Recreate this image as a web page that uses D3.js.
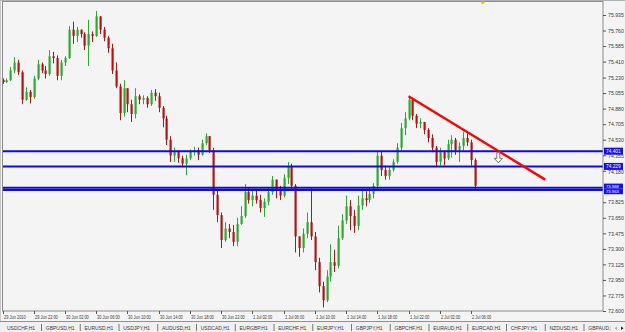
<!DOCTYPE html>
<html>
<head>
<meta charset="utf-8">
<script src="https://cdn.jsdelivr.net/npm/d3@7"></script>
<style>
  body { margin: 0; background: #f4f4f4; }
  svg { display: block; font-family: "Liberation Sans", Arial, sans-serif; }
</style>
</head>
<body>
<script>
const w = 625;
const h = 332;

// 30 min bars, 29 Jun 18:00 -> 2 Jul 06:30
const firstOpen = 75.20;
const closes = [
  75.18, 75.20, 75.31, 75.40, 75.29, 74.98, 75.07, 75.01, 75.22, 75.38,
  75.31, 75.27, 75.47, 75.45, 75.25, 75.40, 75.45, 75.77, 75.70, 75.77,
  75.72, 75.59, 75.72, 75.70, 75.92, 75.77, 75.68, 75.56, 75.31, 75.13,
  74.83, 75.11, 74.93, 74.82, 75.02, 74.98, 75.00, 74.93, 75.06, 75.02,
  74.89, 74.77, 74.53, 74.35, 74.39, 74.32, 74.26, 74.32, 74.40, 74.41,
  74.36, 74.49, 74.57, 74.41, 73.91, 73.68, 73.40, 73.53, 73.49, 73.38,
  73.58, 73.67, 73.94, 73.85, 73.90, 73.85, 73.76, 73.83, 73.94, 74.08,
  73.96, 73.90, 74.10, 74.23, 74.01, 73.44, 73.31, 73.47, 73.60, 73.44,
  73.15, 72.88, 72.72, 72.99, 73.15, 73.11, 73.42, 73.62, 73.78, 73.67,
  73.56, 73.79, 73.87, 73.85, 73.92, 74.01, 74.35, 74.19, 74.12, 74.19,
  74.28, 74.44, 74.66, 74.77, 74.98, 74.80, 74.71, 74.73, 74.64, 74.55,
  74.44, 74.28, 74.39, 74.32, 74.48, 74.53, 74.41, 74.46, 74.55, 74.50,
  74.30, 74.01
];
const highs = [
  75.22, 75.22, 75.35, 75.46, 75.43, 75.31, 75.12, 75.09, 75.25, 75.43,
  75.40, 75.36, 75.54, 75.52, 75.48, 75.43, 75.47, 75.81, 75.86, 75.80,
  75.77, 75.74, 75.88, 75.75, 75.98, 75.92, 75.80, 75.70, 75.61, 75.40,
  75.16, 75.20, 75.07, 74.98, 75.11, 75.04, 75.03, 75.02, 75.09, 75.10,
  75.06, 74.91, 74.80, 74.57, 74.44, 74.41, 74.35, 74.36, 74.42, 74.45,
  74.44, 74.53, 74.60, 74.57, 74.44, 73.96, 73.71, 73.60, 73.58, 73.57,
  73.65, 73.78, 74.03, 73.99, 73.96, 73.97, 73.91, 73.87, 73.99, 74.12,
  74.08, 74.01, 74.14, 74.28, 74.26, 74.03, 73.44, 73.53, 73.71, 73.99,
  73.49, 73.20, 72.93, 73.06, 73.35, 73.29, 73.56, 73.69, 73.90, 73.85,
  73.74, 73.90, 73.96, 73.95, 73.99, 74.04, 74.39, 74.39, 74.24, 74.22,
  74.31, 74.49, 74.72, 74.84, 75.02, 75.00, 74.82, 74.77, 74.73, 74.66,
  74.59, 74.46, 74.44, 74.41, 74.53, 74.58, 74.55, 74.50, 74.62, 74.60,
  74.53, 74.32
];
const lows = [
  75.16, 75.17, 75.19, 75.28, 75.26, 74.93, 74.97, 74.94, 74.99, 75.20,
  75.28, 75.22, 75.25, 75.39, 75.20, 75.20, 75.36, 75.44, 75.61, 75.63,
  75.68, 75.54, 75.36, 75.63, 75.69, 75.72, 75.64, 75.51, 75.27, 75.11,
  74.75, 74.79, 74.84, 74.73, 74.77, 74.93, 74.93, 74.89, 74.91, 74.97,
  74.84, 74.67, 74.47, 74.28, 74.28, 74.27, 74.22, 74.13, 74.30, 74.35,
  74.30, 74.35, 74.47, 74.38, 73.74, 73.60, 73.31, 73.38, 73.42, 73.33,
  73.33, 73.57, 73.65, 73.81, 73.78, 73.81, 73.71, 73.66, 73.79, 73.91,
  73.87, 73.85, 73.88, 74.03, 73.96, 73.26, 73.21, 73.26, 73.42, 73.40,
  73.06, 72.81, 72.64, 72.70, 72.93, 73.04, 73.08, 73.40, 73.58, 73.51,
  73.48, 73.51, 73.74, 73.78, 73.82, 73.87, 73.96, 74.12, 74.08, 74.08,
  74.17, 74.26, 74.41, 74.58, 74.75, 74.75, 74.66, 74.66, 74.59, 74.50,
  74.39, 74.22, 74.24, 74.24, 74.30, 74.33, 74.36, 74.28, 74.41, 74.46,
  74.24, 73.97
];

const timeLabels = ["29 Jun 2010", "29 Jun 22:00", "30 Jun 02:00", "30 Jun 06:00",
  "30 Jun 10:00", "30 Jun 14:00", "30 Jun 18:00", "30 Jun 22:00", "1 Jul 02:00",
  "1 Jul 06:00", "1 Jul 10:00", "1 Jul 14:00", "1 Jul 18:00", "1 Jul 22:00",
  "2 Jul 02:00", "2 Jul 06:00"];
const timeLabelBars = [0, 8, 16, 24, 32, 40, 48, 56, 64, 72, 80, 88, 96, 104, 112, 120];

// 74.000 sits under the level boxes, so it is left out
const priceTicks = [72.600, 72.775, 72.950, 73.125, 73.300, 73.475, 73.650, 73.825,
  74.180, 74.355, 74.530, 74.705, 74.880, 75.055, 75.230, 75.410, 75.585,
  75.760, 75.935];

// horizontal lines drawn on the chart
const levels = [74.401, 74.229, 73.988, 73.963];
// trend line (bar index, price)
const trendStart = [104, 75.02];
const trendEnd = [139, 74.08];
const arrowMark = [127, 74.32];
const shiftBar = 123;

const tabs = ["USDCHF,H1", "GBPUSD,H1", "EURUSD,H1", "USDJPY,H1", "AUDUSD,H1",
  "USDCAD,H1", "EURGBP,H1", "EURCHF,H1", "EURJPY,H1", "GBPJPY,H1", "GBPCHF,H1",
  "EURAUD,H1", "EURCAD,H1", "CHFJPY,H1", "NZDUSD,H1", "GBPAUD,H1"];

const bars = closes.map((c, i) => ({
  i: i,
  open: i === 0 ? firstOpen : closes[i - 1],
  close: c,
  high: highs[i],
  low: lows[i]
}));

const plot = { left: 2.5, right: 603, top: 2, bottom: 311 };

let svg = d3.select("body")
            .append("svg")
            .attr("width", w)
            .attr("height", h);

svg.append("rect").attr("width", w).attr("height", h).attr("fill", "#f4f4f4");

let x = d3.scaleLinear()
          .domain([0, 120])
          .range([2.5, 471]);

let y = d3.scaleLinear()
          .domain([72.600, 75.935])
          .range([311, 15]);

svg.append("clipPath").attr("id", "plotclip")
   .append("rect")
   .attr("x", plot.left).attr("y", plot.top)
   .attr("width", plot.right - plot.left).attr("height", plot.bottom - plot.top);

let g = svg.append("g").attr("clip-path", "url(#plotclip)");

// candles
const bull = "#2fa82f";
const bear = "#b01515";

g.selectAll("line.wick")
 .data(bars)
 .enter()
 .append("line")
 .attr("class", "wick")
 .attr("x1", d => Math.round(x(d.i)) + 0.5)
 .attr("x2", d => Math.round(x(d.i)) + 0.5)
 .attr("y1", d => y(Math.max(d.high, d.open, d.close)))
 .attr("y2", d => y(Math.min(d.low, d.open, d.close)))
 .attr("stroke", d => d.close >= d.open ? bull : bear)
 .attr("stroke-width", 1);

g.selectAll("rect.body")
 .data(bars)
 .enter()
 .append("rect")
 .attr("class", "body")
 .attr("x", d => Math.round(x(d.i)) - 0.5)
 .attr("width", 2.2)
 .attr("y", d => y(Math.max(d.open, d.close)))
 .attr("height", d => Math.max(1, y(Math.min(d.open, d.close)) - y(Math.max(d.open, d.close))))
 .attr("fill", d => d.close >= d.open ? bull : bear);

// horizontal levels
g.selectAll("line.level")
 .data(levels)
 .enter()
 .append("line")
 .attr("class", "level")
 .attr("x1", plot.left)
 .attr("x2", plot.right)
 .attr("y1", d => y(d))
 .attr("y2", d => y(d))
 .attr("stroke", "#0a0aee")
 .attr("stroke-width", 2);

// trend line
g.append("line")
 .attr("x1", x(trendStart[0])).attr("y1", y(trendStart[1]))
 .attr("x2", x(trendEnd[0])).attr("y2", y(trendEnd[1]))
 .attr("stroke", "#ff0000")
 .attr("stroke-width", 2.4);

// down arrow object
let ax = x(arrowMark[0]), ay = y(arrowMark[1]);
g.append("path")
 .attr("d", `M${ax - 1.5},${ay - 6} h3 v6 h2.5 l-4,4.5 l-4,-4.5 h2.5 z`)
 .attr("fill", "#ffffff")
 .attr("stroke", "#555")
 .attr("stroke-width", 0.8);

// frame
svg.append("line").attr("x1", 0).attr("x2", w).attr("y1", 0.5).attr("y2", 0.5).attr("stroke", "#b0b0b0");
svg.append("rect")
   .attr("x", plot.left).attr("y", plot.top - 0.5)
   .attr("width", plot.right - plot.left).attr("height", plot.bottom - plot.top + 0.5)
   .attr("fill", "none").attr("stroke", "#8c8c8c").attr("stroke-width", 1);
svg.append("line").attr("x1", 0.5).attr("x2", 0.5).attr("y1", 0).attr("y2", 321).attr("stroke", "#c8c8c8");

// shift marker
let sx = x(shiftBar);
svg.append("path")
   .attr("d", `M${sx - 2.5},1.5 h5 l-2.5,3 z`)
   .attr("fill", "#e8c000");

// price axis
let yAxis = d3.axisRight(y)
              .tickValues(priceTicks)
              .tickFormat(d3.format(".3f"))
              .tickSize(3)
              .tickPadding(2);
let ya = svg.append("g").attr("transform", `translate(${plot.right},0)`).call(yAxis);
ya.select(".domain").remove();
ya.selectAll("line").attr("stroke", "#555");
ya.selectAll("text")
  .attr("font-size", 5.2).attr("fill", "#3a3a3a")
  .attr("font-family", "Liberation Sans, Arial, sans-serif")
  // labels right under a level box slip down a little, as in the terminal
  .attr("dy", d => {
    let near = levels.find(v => Math.abs(y(v) - y(d)) < 6);
    if (near === undefined) return "0.32em";
    return (y(d) > y(near) ? 2.6 : -1.2) + "px";
  });

// level price boxes; the two close levels share one box, text pushed apart
let lb = svg.append("g");
const boxShift = [0, 0, -1.6, 1.6];
levels.forEach((v, k) => {
  let cy = y(v) + boxShift[k];
  let close = k >= 2;
  lb.append("rect")
    .attr("x", 604).attr("y", cy - (close ? 2.6 : 3.5))
    .attr("width", 19).attr("height", close ? 5.2 : 7)
    .attr("fill", "#1212f0");
});
levels.forEach((v, k) => {
  let cy = y(v) + boxShift[k];
  let close = k >= 2;
  lb.append("text")
    .attr("x", 606).attr("y", cy + (close ? 1.5 : 1.7))
    .attr("font-size", close ? 4.2 : 4.8).attr("fill", "#ffffff")
    .text(d3.format(".3f")(v));
});

// time axis
let ta = svg.append("g");
timeLabelBars.forEach((b, k) => {
  let tx = Math.round(x(b)) + 0.5;
  ta.append("line")
    .attr("x1", tx).attr("x2", tx).attr("y1", plot.bottom).attr("y2", plot.bottom + 3)
    .attr("stroke", "#555");
  ta.append("text")
    .attr("transform", `translate(${tx + 0.5},${318.6}) scale(0.76,1)`)
    .attr("font-size", 5.2).attr("fill", "#3a3a3a")
    .text(timeLabels[k]);
});

// tab bar
svg.append("rect").attr("x", 0).attr("y", 321.5).attr("width", w).attr("height", h - 321.5).attr("fill", "#f0f0f0");
svg.append("line").attr("x1", 0).attr("x2", w).attr("y1", 321.5).attr("y2", 321.5).attr("stroke", "#909090");

svg.append("clipPath").attr("id", "tabclip")
   .append("rect").attr("x", 0).attr("y", 320).attr("width", 611).attr("height", 12);
let tb = svg.append("g").attr("clip-path", "url(#tabclip)");
tabs.forEach((t, k) => {
  let tx = 7 + k * 38.75;
  tb.append("text")
    .attr("x", tx).attr("y", 329.5)
    .attr("font-size", 5).attr("fill", "#3a3a3a")
    .text(t);
  if (k < tabs.length - 1) {
    tb.append("line")
      .attr("x1", tx + 34.5).attr("x2", tx + 34.5).attr("y1", 324).attr("y2", 331)
      .attr("stroke", "#777");
  }
});
svg.append("path").attr("d", "M617,326.5 l-2.5,1.8 l2.5,1.8 z").attr("fill", "#aaa");
svg.append("path").attr("d", "M621,326.5 l2.5,1.8 l-2.5,1.8 z").attr("fill", "#222");
</script>
</body>
</html>
